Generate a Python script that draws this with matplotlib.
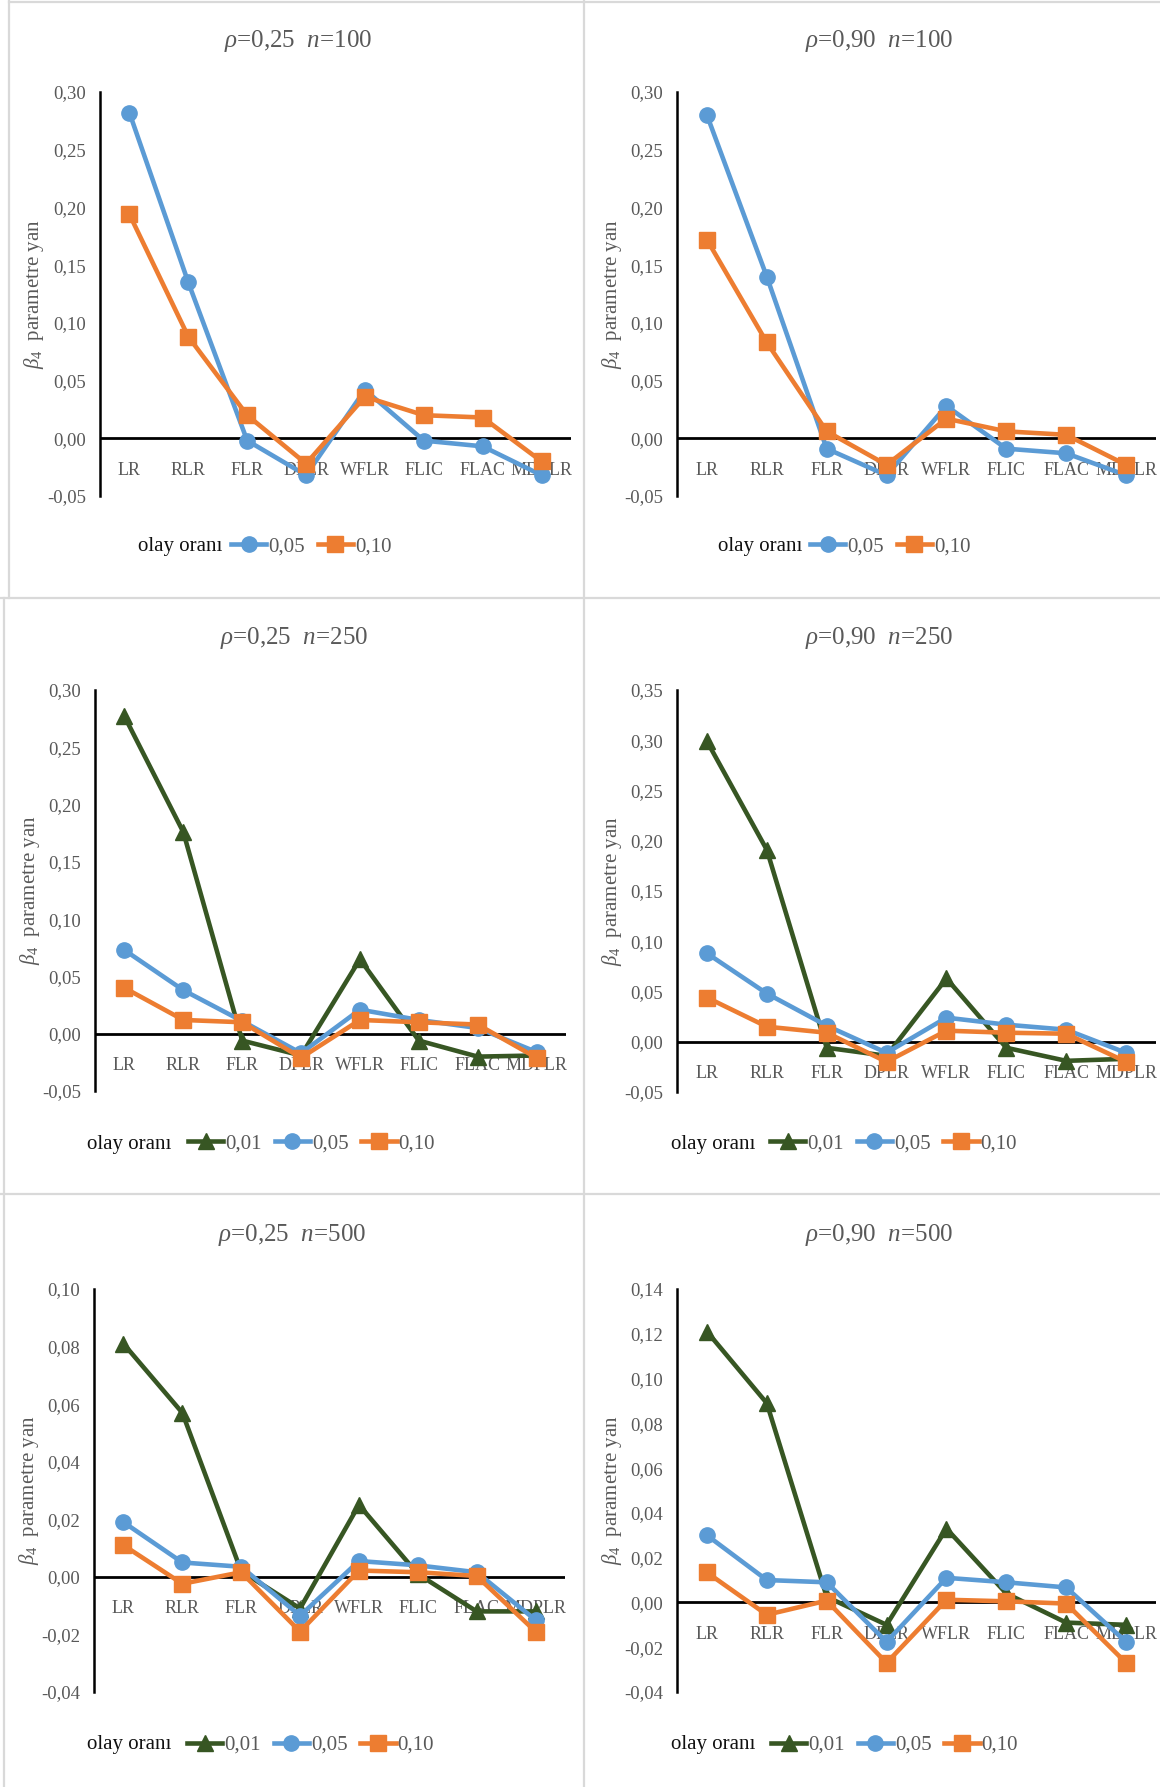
import matplotlib
matplotlib.use("Agg")
import matplotlib.pyplot as plt
from matplotlib.lines import Line2D
from matplotlib.transforms import offset_copy

plt.rcParams['font.family'] = ['Liberation Serif', 'DejaVu Serif']
plt.rcParams['mathtext.fontset'] = 'custom'
plt.rcParams['mathtext.rm'] = 'Liberation Serif'
plt.rcParams['mathtext.it'] = 'Liberation Serif:italic'

# yontemler (x ekseni)
yontemler = ["LR", "RLR", "FLR", "DPLR", "WFLR", "FLIC", "FLAC", "MDPLR"]

# rho=0,25 n=100
r25_n100_005 = [0.282, 0.135, -0.002, -0.032, 0.042, -0.002, -0.007, -0.032]
r25_n100_010 = [0.194, 0.088, 0.020, -0.022, 0.036, 0.020, 0.018, -0.020]
# rho=0,90 n=100
r90_n100_005 = [0.280, 0.140, -0.009, -0.032, 0.028, -0.009, -0.013, -0.032]
r90_n100_010 = [0.172, 0.083, 0.006, -0.023, 0.017, 0.006, 0.003, -0.023]
# rho=0,25 n=250
r25_n250_001 = [0.277, 0.176, -0.006, -0.019, 0.065, -0.006, -0.020, -0.019]
r25_n250_005 = [0.073, 0.038, 0.011, -0.017, 0.021, 0.012, 0.005, -0.016]
r25_n250_010 = [0.040, 0.012, 0.010, -0.021, 0.012, 0.010, 0.008, -0.021]
# rho=0,90 n=250
r90_n250_001 = [0.299, 0.191, -0.006, -0.014, 0.063, -0.006, -0.019, -0.017]
r90_n250_005 = [0.088, 0.048, 0.016, -0.011, 0.024, 0.017, 0.012, -0.011]
r90_n250_010 = [0.044, 0.015, 0.009, -0.020, 0.011, 0.009, 0.008, -0.020]
# rho=0,25 n=500
r25_n500_001 = [0.081, 0.057, 0.002, -0.011, 0.025, 0.001, -0.012, -0.012]
r25_n500_005 = [0.019, 0.005, 0.0035, -0.0135, 0.0055, 0.004, 0.0016, -0.015]
r25_n500_010 = [0.011, -0.0024, 0.0016, -0.019, 0.0022, 0.0016, 0.0003, -0.019]
# rho=0,90 n=500
r90_n500_001 = [0.121, 0.089, 0.0025, -0.010, 0.033, 0.004, -0.009, -0.010]
r90_n500_005 = [0.030, 0.010, 0.009, -0.0176, 0.011, 0.009, 0.0067, -0.0176]
r90_n500_010 = [0.0134, -0.0055, 0.0008, -0.027, 0.0012, 0.0005, -0.0005, -0.027]

seri_etiket = ["0,01", "0,05", "0,10"]
renkler = {"0,01": "#375623", "0,05": "#5B9BD5", "0,10": "#ED7D31"}
isaretler = {"0,01": "^", "0,05": "o", "0,10": "s"}
gri = "#595959"

W, H = 1160, 1787
fig = plt.figure(figsize=(W / 100, H / 100), dpi=100)

# cerceve cizgileri
cizgiler = [
    ([9, W], [2, 2]), ([0, W], [598, 598]), ([0, W], [1194, 1194]),
    ([584, 584], [0, H]), ([9, 9], [0, 598]), ([4, 4], [598, H]),
]
for xs, ys in cizgiler:
    fig.add_artist(Line2D([x / W for x in xs], [1 - y / H for y in ys],
                          color="#D9D9D9", lw=1.6))

paneller = [
    dict(baslik=r"$\rho$=0,25  $n$=100", seriler={"0,05": r25_n100_005, "0,10": r25_n100_010},
         ylim=(-0.05, 0.30), adim=0.05, kutu=(100, 92, 571, 496), bx=298, by=41,
         lx=34, lgx=(222, 231), lgy=547),
    dict(baslik=r"$\rho$=0,90  $n$=100", seriler={"0,05": r90_n100_005, "0,10": r90_n100_010},
         ylim=(-0.05, 0.30), adim=0.05, kutu=(677, 92, 1156, 496), bx=879, by=41,
         lx=612, lgx=(802, 810), lgy=547),
    dict(baslik=r"$\rho$=0,25  $n$=250", seriler={"0,01": r25_n250_001, "0,05": r25_n250_005, "0,10": r25_n250_010},
         ylim=(-0.05, 0.30), adim=0.05, kutu=(95, 690, 566, 1091), bx=294, by=638,
         lx=30, lgx=(171, 188), lgy=1144),
    dict(baslik=r"$\rho$=0,90  $n$=250", seriler={"0,01": r90_n250_001, "0,05": r90_n250_005, "0,10": r90_n250_010},
         ylim=(-0.05, 0.35), adim=0.05, kutu=(677, 690, 1156, 1092), bx=879, by=638,
         lx=612, lgx=(755, 770), lgy=1144),
    dict(baslik=r"$\rho$=0,25  $n$=500", seriler={"0,01": r25_n500_001, "0,05": r25_n500_005, "0,10": r25_n500_010},
         ylim=(-0.04, 0.10), adim=0.02, kutu=(94, 1289, 565, 1692), bx=292, by=1235,
         lx=29, lgx=(171, 187), lgy=1745),
    dict(baslik=r"$\rho$=0,90  $n$=500", seriler={"0,01": r90_n500_001, "0,05": r90_n500_005, "0,10": r90_n500_010},
         ylim=(-0.04, 0.14), adim=0.02, kutu=(677, 1289, 1156, 1692), bx=879, by=1235,
         lx=612, lgx=(755, 771), lgy=1745),
]

for p in paneller:
    l, t, r, b = p["kutu"]
    ax = fig.add_axes([l / W, 1 - b / H, (r - l) / W, (b - t) / H])
    x = range(len(yontemler))
    for etiket in seri_etiket:
        if etiket not in p["seriler"]:
            continue
        ax.plot(x, p["seriler"][etiket], color=renkler[etiket], marker=isaretler[etiket],
                lw=3.3, ms=11.5 if etiket != "0,05" else 11, label=etiket, clip_on=False, zorder=3)
    ax.set_xlim(-0.5, len(yontemler) - 0.5)
    ax.set_ylim(*p["ylim"])
    n_tick = int(round((p["ylim"][1] - p["ylim"][0]) / p["adim"]))
    ticks = [p["ylim"][0] + i * p["adim"] for i in range(n_tick + 1)]
    ax.set_yticks(ticks)
    ax.set_yticklabels([f"{v:.2f}".replace(".", ",").replace("-0,00", "0,00") for v in ticks])
    ax.tick_params(axis="y", length=0, pad=10, labelsize=13.5, labelcolor=gri)
    ax.set_xticks([])
    for s in ["top", "right", "bottom"]:
        ax.spines[s].set_visible(False)
    ax.spines["left"].set_linewidth(1.8)
    ax.spines["left"].set_color("black")
    ax.axhline(0, color="black", lw=2.0, zorder=2)
    ax.patch.set_alpha(0)
    tr = offset_copy(ax.transData, fig=fig, x=0, y=-32, units="dots")
    for i, yontem in enumerate(yontemler):
        ax.text(i, 0, yontem, transform=tr, ha="center", va="center", fontsize=13, color=gri, zorder=1)

    fig.text(p["bx"] / W, 1 - p["by"] / H, p["baslik"], ha="center", va="center", fontsize=18, color=gri)
    fig.text(p["lx"] / W, 1 - (t + b) / 2 / H, r"$\beta_4$  parametre yan", rotation=90,
             ha="center", va="center", fontsize=15, color=gri)
    fig.text(p["lgx"][0] / W, 1 - p["lgy"] / H, "olay oranı", ha="right", va="center",
             fontsize=15, color="#111111")
    handles, labels = ax.get_legend_handles_labels()
    leg = fig.legend(handles, labels, loc="center left",
                     bbox_to_anchor=(p["lgx"][1] / W, 1 - p["lgy"] / H),
                     ncol=len(handles), frameon=False, fontsize=15, borderpad=0, borderaxespad=0,
                     handlelength=1.7, handletextpad=0.1, columnspacing=0.6, labelcolor=gri)

fig.savefig("out.png", dpi=100)
